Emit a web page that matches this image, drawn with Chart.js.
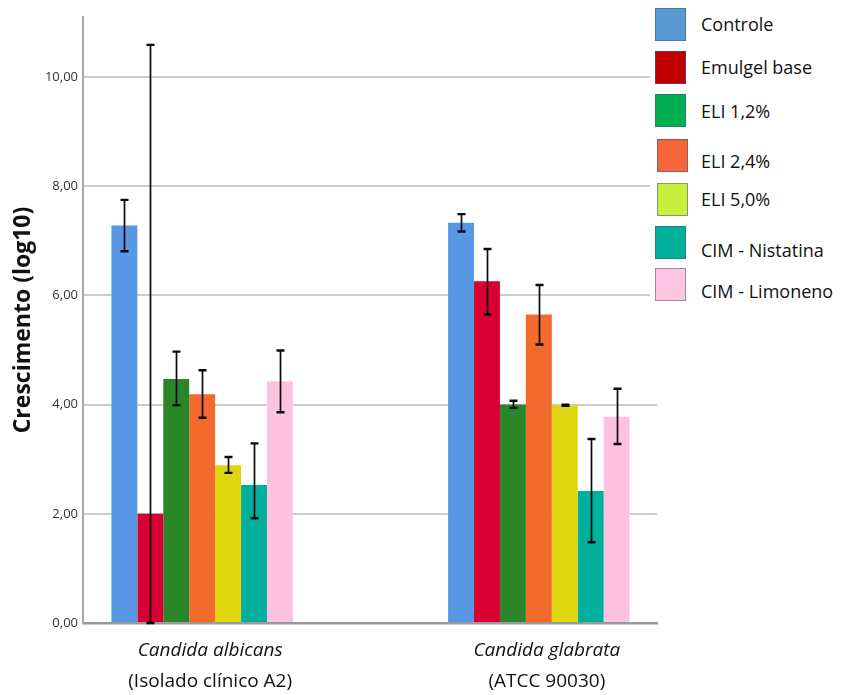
<!DOCTYPE html>
<html lang="pt">
<head>
<meta charset="utf-8">
<title>Crescimento (log10)</title>
<script src="https://cdn.jsdelivr.net/npm/chart.js@4.4.1/dist/chart.umd.min.js"></script>
<style>
  html, body { margin: 0; padding: 0; background: #ffffff; }
  #wrap { position: relative; width: 841px; height: 695px; }
  #chart { position: absolute; left: 0; top: 0; }
  #legend {
    position: absolute; left: 650px; top: 0; width: 191px; height: 312px;
    background: #ffffff; font-family: "Open Sans", sans-serif; font-size: 18px; color: #111;
  }
  .lg-box { position: absolute; left: 5px; width: 31px; height: 33px; box-sizing: border-box;
            border: 1px solid rgba(60, 90, 130, 0.55); }
  .lg-text { position: absolute; left: 51px; line-height: 24px; white-space: nowrap; }
</style>
</head>
<body>
<div id="wrap">
  <canvas id="chart" width="841" height="695"></canvas>
  <div id="legend"></div>
</div>
<script>
// Groups on the horizontal axis
const groups = ['Candida albicans', 'Candida glabrata'];
const groupNotes = ['(Isolado clínico A2)', '(ATCC 90030)'];

// Treatments (one bar per treatment in each group)
const seriesNames = ['Controle', 'Emulgel base', 'ELI 1,2%', 'ELI 2,4%', 'ELI 5,0%', 'CIM - Nistatina', 'CIM - Limoneno'];

// Mean growth (log10), in series order
const meanAlbicans = [7.28, 2.00, 4.47, 4.19, 2.89, 2.53, 4.43];
const meanGlabrata = [7.33, 6.26, 4.00, 5.65, 3.99, 2.42, 3.78];

// Error bar ends (log10), in series order
const lowAlbicans  = [6.81, 0.00, 3.99, 3.76, 2.75, 1.92, 3.86];
const highAlbicans = [7.75, 10.59, 4.97, 4.63, 3.04, 3.29, 4.99];
const lowGlabrata  = [7.17, 5.65, 3.94, 5.10, 3.98, 1.48, 3.28];
const highGlabrata = [7.49, 6.85, 4.07, 6.19, 4.00, 3.37, 4.29];

// Y axis tick values
const yTicks = [0, 2, 4, 6, 8, 10];

const means = [meanAlbicans, meanGlabrata];
const lows = [lowAlbicans, lowGlabrata];
const highs = [highAlbicans, highGlabrata];

// Styling
const barColors = ['#5797e3', '#d80032', '#2b8529', '#f26a2c', '#e0d60f', '#00b09c', '#fdc2e0'];
const legendColors = ['#5b9bd5', '#c00000', '#00b050', '#f5653a', '#c6ef3e', '#00b09a', '#ffc5e3'];
const legendBoxTops = [8, 51, 94, 139, 183, 226, 268];
const legendTextMids = [24, 67, 111, 161, 199, 250, 291];
const legendBoxLefts = [5, 5, 5, 7, 7, 5, 5];

Chart.defaults.font.family = '"Open Sans", sans-serif';
Chart.defaults.color = '#333';

const datasets = seriesNames.map((name, i) => ({
  label: name,
  data: groups.map((_, g) => ({ x: g, y: means[g][i] })),
  backgroundColor: barColors[i],
  borderWidth: 0,
  categoryPercentage: 0.539,
  barPercentage: 1.0
}));

// Error bars with caps, drawn on top of the bars
const errorBars = {
  id: 'errorBars',
  afterDatasetsDraw(chart) {
    const { ctx } = chart;
    const y = chart.scales.y;
    ctx.save();
    ctx.strokeStyle = '#0a0a0a';
    seriesNames.forEach((_, i) => {
      const meta = chart.getDatasetMeta(i);
      meta.data.forEach((bar, g) => {
        const x = Math.round(bar.x) + 0.5;
        const yl = y.getPixelForValue(lows[g][i]);
        const yh = y.getPixelForValue(highs[g][i]);
        ctx.lineWidth = 1.7;
        ctx.beginPath();
        ctx.moveTo(x, yl);
        ctx.lineTo(x, yh);
        ctx.stroke();
        ctx.lineWidth = 2.4;
        ctx.beginPath();
        ctx.moveTo(x - 4, yl); ctx.lineTo(x + 4, yl);
        ctx.moveTo(x - 4, yh); ctx.lineTo(x + 4, yh);
        ctx.stroke();
      });
    });
    ctx.restore();
  }
};

// Two-line group labels: italic species name, plain strain note
const groupLabels = {
  id: 'groupLabels',
  afterDraw(chart) {
    const { ctx } = chart;
    const xs = chart.scales.x;
    const base = chart.chartArea.bottom;
    ctx.save();
    ctx.fillStyle = '#111';
    ctx.textAlign = 'center';
    ctx.textBaseline = 'middle';
    groups.forEach((name, g) => {
      const cx = xs.getPixelForValue(g) + 8;
      ctx.font = 'italic 19px "Open Sans", sans-serif';
      ctx.fillText(name, cx, base + 28);
      ctx.font = '19px "Open Sans", sans-serif';
      ctx.fillText(groupNotes[g], cx, base + 59);
    });
    ctx.restore();
  }
};

new Chart(document.getElementById('chart'), {
  type: 'bar',
  data: { datasets },
  options: {
    responsive: false,
    animation: false,
    devicePixelRatio: 1,
    layout: { padding: { top: 17, right: 184, left: 0, bottom: 0 } },
    plugins: { legend: { display: false }, tooltip: { enabled: false } },
    scales: {
      x: {
        type: 'linear',
        offset: false,
        min: -0.354,
        max: 1.351,
        afterBuildTicks(scale) { scale.ticks = groups.map((_, g) => ({ value: g })); },
        afterFit(scale) { scale.height = 72; },
        ticks: { display: false },
        grid: { display: false, offset: false },
        border: { display: true, color: '#9a9a9a', width: 2.5 }
      },
      y: {
        min: 0,
        max: 11.1,
        afterBuildTicks(scale) { scale.ticks = yTicks.map(v => ({ value: v })); },
        afterFit(scale) { scale.width = 83; },
        ticks: {
          padding: 5,
          color: '#333',
          font: { size: 13 },
          callback: v => v.toFixed(2).replace('.', ',')
        },
        grid: { color: '#cccccc', lineWidth: 2, drawTicks: false },
        border: { display: true, color: '#a8a8a8', width: 2 },
        title: {
          display: true,
          text: 'Crescimento (log10)',
          color: '#111',
          font: { size: 23, weight: 'bold' },
          padding: { top: 10, bottom: 0 }
        }
      }
    }
  },
  plugins: [errorBars, groupLabels]
});

// Legend panel
const legend = document.getElementById('legend');
seriesNames.forEach((name, i) => {
  const box = document.createElement('div');
  box.className = 'lg-box';
  box.style.top = legendBoxTops[i] + 'px';
  box.style.left = legendBoxLefts[i] + 'px';
  box.style.background = legendColors[i];
  legend.appendChild(box);
  const txt = document.createElement('div');
  txt.className = 'lg-text';
  txt.style.top = (legendTextMids[i] - 12) + 'px';
  txt.textContent = name;
  legend.appendChild(txt);
});
</script>
</body>
</html>
